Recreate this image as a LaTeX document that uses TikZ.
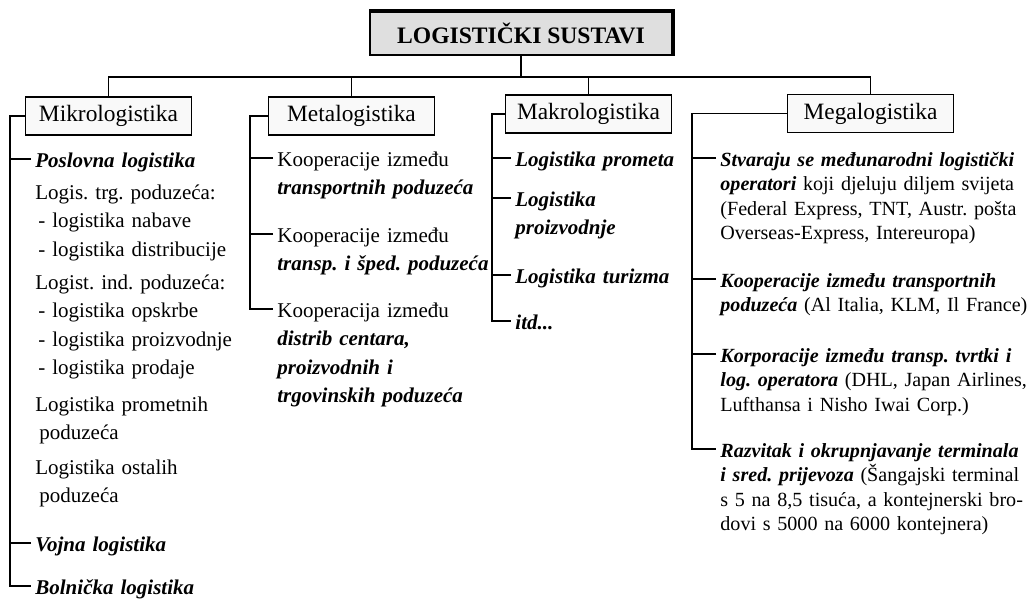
\documentclass[tikz,border=0pt]{standalone}
\usepackage{fontspec}
\setmainfont{Liberation Serif}
\usetikzlibrary{calc}
\frenchspacing

\begin{document}
\begin{tikzpicture}[x=0.5pt, y=-0.5pt,
  sysbox/.style={draw=black, line width=0.6pt, fill=gray!25, minimum width=151pt,
    minimum height=21.5pt, font=\fontsize{11.8}{14}\selectfont\bfseries},
  catbox/.style={draw=black, line width=0.6pt, fill=gray!5, minimum width=83pt,
    minimum height=19pt, inner xsep=3pt, font=\fontsize{11.7}{14}\selectfont},
  entry/.style={anchor=base west, inner sep=0pt, align=left, text width=#1,
    font=\fontsize{10.5}{14.25}\selectfont},
  entry/.default=110pt,
  megaentry/.style={entry=200pt, font=\fontsize{10.05}{12.25}\selectfont},
  conn/.style={draw=black, line width=0.7pt},
]
\useasboundingbox (0,0) rectangle (1036,599);

% Title and the four branches
\node[sysbox] (sys) at (521,33.5) {LOGISTIČKI SUSTAVI};
\draw[line width=2pt] (sys.north west) -- (sys.north east) -- (sys.south east);

\node[catbox] (mikro) at (108.5,116) {Mikrologistika};
\node[catbox] (meta) at (351.5,116) {Metalogistika};
\node[catbox] (makro) at (588.5,114) {Makrologistika};
\node[catbox] (mega) at (870.5,113.5) {Megalogistika};

\coordinate (bus) at (521,77);
\draw[conn] (sys.south) -- (bus);
\draw[conn] (mikro.north) |- (bus) -| (mega.north);
\draw[conn] (meta.north) -- (meta.north |- bus);
\draw[conn] (makro.north) -- (makro.north |- bus);

% Mikrologistika
\node[entry] (posl) at (35,167) {{\bfseries\itshape Poslovna logistika}};
\node[entry] (trg) at (35,199) {Logis. trg. poduzeća:\\
  \hspace*{1.5pt}- logistika nabave\\
  \hspace*{1.5pt}- logistika distribucije};
\node[entry] (ind) at (35,289) {Logist. ind. poduzeća:\\
  \hspace*{1.5pt}- logistika opskrbe\\
  \hspace*{1.5pt}- logistika proizvodnje\\
  \hspace*{1.5pt}- logistika prodaje};
\node[entry] (prom) at (35,411) {Logistika prometnih\\ \hspace*{2pt}poduzeća};
\node[entry] (ost) at (35,474) {Logistika ostalih\\ \hspace*{2pt}poduzeća};
\node[entry] (voj) at (35,551) {{\bfseries\itshape Vojna logistika}};
\node[entry] (bol) at (35,594) {{\bfseries\itshape Bolnička logistika}};

% Metalogistika
\node[entry] (koop1) at (277,166) {Kooperacije između\\
  {\bfseries\itshape transportnih poduzeća}};
\node[entry] (koop2) at (277,242) {Kooperacije između\\
  {\bfseries\itshape transp. i šped. poduzeća}};
\node[entry] (koop3) at (277,317) {Kooperacija između\\
  {\bfseries\itshape distrib centara,\\ proizvodnih i\\ trgovinskih poduzeća}};

% Makrologistika
\node[entry=85pt] (lprom) at (515,166) {{\bfseries\itshape Logistika prometa}};
\node[entry=85pt] (lproi) at (515,206) {{\bfseries\itshape Logistika\\ proizvodnje}};
\node[entry=85pt] (ltur) at (515,283) {{\bfseries\itshape Logistika turizma}};
\node[entry=85pt] (itd) at (515,329) {{\bfseries\itshape itd...}};

% Megalogistika
\node[megaentry] (oper) at (720,166) {{\bfseries\itshape Stvaraju se međunarodni logistički\\
  operatori} koji djeluju diljem svijeta\\
  (Federal Express, TNT, Austr. pošta\\
  Overseas-Express, Intereuropa)};
\node[megaentry] (kooptr) at (720,287) {{\bfseries\itshape Kooperacije između transportnih\\
  poduzeća} (Al Italia, KLM, Il France)};
\node[megaentry] (korp) at (720,362) {{\bfseries\itshape Korporacije između transp. tvrtki i\\
  log. operatora} (DHL, Japan Airlines,\\
  Lufthansa i Nisho Iwai Corp.)};
\node[megaentry] (term) at (720,457) {{\bfseries\itshape Razvitak i okrupnjavanje terminala\\
  i sred. prijevoza} (Šangajski terminal\\
  s 5 na 8,5 tisuća, a kontejnerski bro-\\
  dovi s 5000 na 6000 kontejnera)};

% Brackets
\coordinate (mkx) at (10,0);
\coordinate (mtx) at (250,0);
\coordinate (mrx) at (492,0);
\coordinate (mgx) at (692,0);
\foreach \n in {posl,voj,bol,koop1,koop2,koop3,lprom,lproi,ltur,itd,oper,kooptr,korp,term}
  \coordinate (\n-t) at ($(\n.base west)+(-4,-8)$);

\draw[conn] (mikro.west) -| (mkx |- bol-t) -- (bol-t);
\foreach \n in {posl,voj}
  \draw[conn] (\n-t) -- (\n-t -| mkx);

\draw[conn] (meta.west) -| (mtx |- koop3-t) -- (koop3-t);
\foreach \n in {koop1,koop2}
  \draw[conn] (\n-t) -- (\n-t -| mtx);

\draw[conn] (makro.west) -| (mrx |- itd-t) -- (itd-t);
\foreach \n in {lprom,lproi,ltur}
  \draw[conn] (\n-t) -- (\n-t -| mrx);

\draw[conn] (mega.west) -| (mgx |- term-t) -- (term-t);
\foreach \n in {oper,kooptr,korp}
  \draw[conn] (\n-t) -- (\n-t -| mgx);
\end{tikzpicture}
\end{document}
